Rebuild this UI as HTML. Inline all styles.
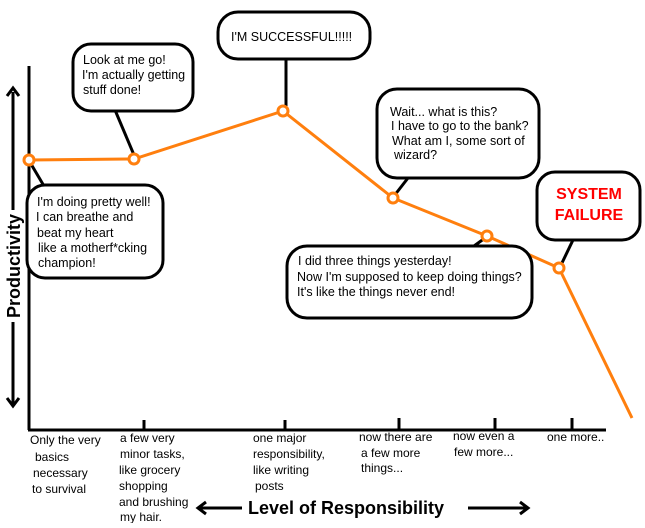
<!DOCTYPE html>
<html><head><style>
body{margin:0;background:#fff;}
svg text{font-family:"Liberation Sans",Arial,sans-serif;}
</style></head><body>
<svg width="645" height="523" viewBox="0 0 645 523" xmlns="http://www.w3.org/2000/svg">
<defs><marker id="ah" markerWidth="8" markerHeight="8" refX="4" refY="4" orient="auto"><path d="M0,0 L6,4 L0,8" fill="none" stroke="#000" stroke-width="2"/></marker></defs>
<!-- axes -->
<line x1="29" y1="66" x2="29" y2="430" stroke="#000" stroke-width="3"/>
<line x1="28" y1="430" x2="606" y2="430" stroke="#000" stroke-width="3"/>
<g stroke="#000" stroke-width="3">
<line x1="144" y1="420" x2="144" y2="430"/><line x1="285" y1="420" x2="285" y2="430"/>
<line x1="399" y1="418" x2="399" y2="430"/><line x1="495" y1="418" x2="495" y2="430"/>
<line x1="572" y1="418" x2="572" y2="430"/>
</g>
<!-- productivity arrow -->
<line x1="13" y1="92" x2="13" y2="210" stroke="#000" stroke-width="3"/>
<path d="M7,96 L13,88 L19,96" fill="none" stroke="#000" stroke-width="3"/>
<line x1="13" y1="322" x2="13" y2="404" stroke="#000" stroke-width="3"/>
<path d="M7,398 L13,406 L19,398" fill="none" stroke="#000" stroke-width="3"/>
<text transform="translate(20,266) rotate(-90)" text-anchor="middle" font-size="18" font-weight="bold">Productivity</text>
<!-- orange line -->
<polyline points="29,160 134,159 283,111 393,198 487,236 559,268 632,418" fill="none" stroke="#ff7f0e" stroke-width="3"/>
<!-- tails -->
<g stroke="#000" stroke-width="3">
<line x1="115" y1="110" x2="134" y2="155"/>
<line x1="286" y1="58" x2="286" y2="106"/>
<line x1="31" y1="164" x2="44" y2="186"/>
<line x1="408" y1="178" x2="394" y2="196"/>
<line x1="573" y1="240" x2="561" y2="265"/>
<line x1="474" y1="246" x2="485" y2="238"/>
</g>
<g fill="#fff" stroke="#ff7f0e" stroke-width="3">
<circle cx="29" cy="160" r="5"/><circle cx="134" cy="159" r="5"/><circle cx="283" cy="111" r="5"/>
<circle cx="393" cy="198" r="5"/><circle cx="487" cy="236" r="5"/><circle cx="559" cy="268" r="5"/>
</g>
<!-- bubbles -->
<g fill="#fff" stroke="#000" stroke-width="3">
<rect x="73" y="44" width="120" height="67" rx="18"/>
<rect x="218" y="12" width="152" height="47" rx="20"/>
<rect x="27" y="185" width="136" height="93" rx="18"/>
<rect x="377" y="89" width="162" height="89" rx="20"/>
<rect x="537" y="172" width="103" height="68" rx="18"/>
<rect x="287" y="246" width="245" height="72" rx="20"/>
</g>
<g font-size="12.5">
<text x="83" y="64">Look at me go!</text>
<text x="82" y="79">I'm actually getting</text>
<text x="83" y="94">stuff done!</text>
<text x="231" y="41">I'M SUCCESSFUL!!!!!</text>
<text x="37" y="206">I'm doing pretty well!</text>
<text x="36" y="221">I can breathe and</text>
<text x="37" y="237">beat my heart</text>
<text x="38" y="252">like a motherf*cking</text>
<text x="38" y="267">champion!</text>
<text x="390" y="116">Wait...  what is this?</text>
<text x="391" y="130">I have to go to the bank?</text>
<text x="392" y="145">What am I, some sort of</text>
<text x="394" y="159">wizard?</text>
<text x="298" y="265">I did three things yesterday!</text>
<text x="297" y="281">Now I'm supposed to keep doing things?</text>
<text x="297" y="296">It's like the things never end!</text>
</g>
<text x="589" y="199" text-anchor="middle" font-size="16" font-weight="bold" fill="#ff0000">SYSTEM</text>
<text x="589" y="220" text-anchor="middle" font-size="16" font-weight="bold" fill="#ff0000">FAILURE</text>
<!-- x labels -->
<g font-size="12">
<text x="30" y="444">Only the very</text><text x="35" y="461">basics</text><text x="33" y="477">necessary</text><text x="32" y="493">to survival</text>
<text x="120" y="442">a few very</text><text x="120" y="458">minor tasks,</text><text x="119" y="474">like grocery</text><text x="119" y="490">shopping</text><text x="119" y="506">and brushing</text><text x="120" y="521">my hair.</text>
<text x="253" y="442">one major</text><text x="253" y="458">responsibility,</text><text x="253" y="474">like writing</text><text x="255" y="490">posts</text>
<text x="359" y="441">now there are</text><text x="361" y="457">a few more</text><text x="361" y="472">things...</text>
<text x="453" y="440">now even a</text><text x="454" y="456">few more...</text>
<text x="547" y="441">one more..</text>
</g>
<text x="248" y="514" font-size="18" font-weight="bold">Level of Responsibility</text>
<line x1="200" y1="508" x2="242" y2="508" stroke="#000" stroke-width="3"/>
<path d="M206,502 L198,508 L206,514" fill="none" stroke="#000" stroke-width="3"/>
<line x1="468" y1="508" x2="526" y2="508" stroke="#000" stroke-width="3"/>
<path d="M520,502 L528,508 L520,514" fill="none" stroke="#000" stroke-width="3"/>
</svg>
</body></html>
